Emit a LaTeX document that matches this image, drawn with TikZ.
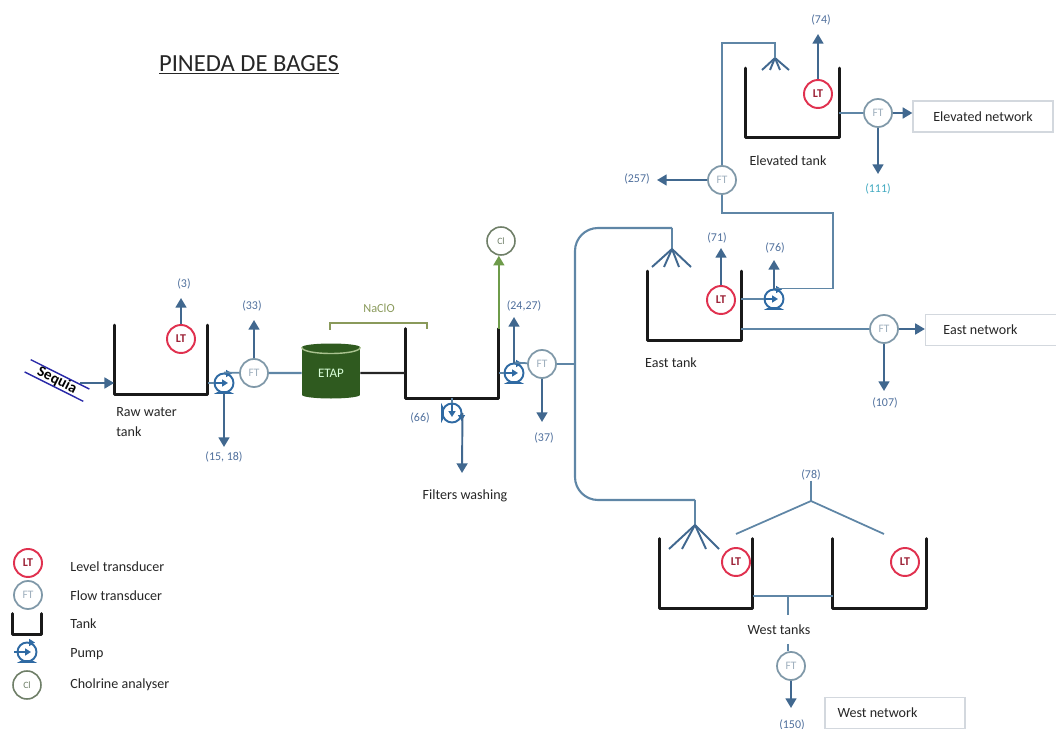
\documentclass[tikz,border=0pt]{standalone}
\usepackage{fontspec}
\setmainfont{Carlito}
\usetikzlibrary{arrows.meta,positioning,shapes.geometric}
\definecolor{flowblue}{HTML}{41688F}
\definecolor{pipeblue}{HTML}{5F86A6}
\definecolor{ringgrey}{HTML}{7F98A8}
\definecolor{ftgrey}{HTML}{9FB0BE}
\definecolor{ltred}{HTML}{E0314F}
\definecolor{lblblue}{HTML}{4F6F9C}
\definecolor{etapgreen}{HTML}{2F5A1F}
\definecolor{rimgreen}{HTML}{A9C28F}
\definecolor{chlorgreen}{HTML}{6E9B4A}
\definecolor{clring}{HTML}{6F7F68}
\definecolor{naclo}{HTML}{8A9A5B}
\definecolor{pumpblue}{HTML}{2F6AA3}
\definecolor{seqblue}{HTML}{2A2AA8}
\definecolor{boxgrey}{HTML}{D3D8DE}
\begin{document}
\begin{tikzpicture}[x=0.02cm,y=-0.02cm,
  txt/.style={font=\fontsize{8}{9}\selectfont,align=left,text=black!85,inner sep=0},
  lbl/.style={font=\fontsize{6.8}{8}\selectfont,text=lblblue,inner sep=0},
  ltnode/.style={circle,draw=ltred,line width=1.1pt,minimum size=0.56cm,inner sep=0,font=\fontsize{6.8}{7}\selectfont\bfseries,text=ltred!70!black},
  ftnode/.style={circle,draw=ringgrey,fill=white,line width=1pt,minimum size=0.56cm,inner sep=0,font=\fontsize{6.5}{7}\selectfont,text=ftgrey},
  clnode/.style={circle,draw=clring,line width=0.9pt,minimum size=0.56cm,inner sep=0,font=\fontsize{5.5}{7}\selectfont,text=clring},
  pumpnode/.style={circle,draw=pumpblue,line width=1.1pt,minimum size=0.38cm,inner sep=0},
  tankbox/.style={minimum width=1.86cm,minimum height=1.38cm,inner sep=0},
  netbox/.style={draw=boxgrey,line width=0.7pt,minimum height=0.62cm,inner sep=0,font=\fontsize{8}{9}\selectfont,text=black!85},
  tankline/.style={draw=black!90,line width=1.6pt,line cap=round,line join=round},
  pipe/.style={draw=pipeblue,line width=1pt},
  flowarr/.style={draw=flowblue,line width=1.1pt,-{Triangle[length=5.5pt,width=6.2pt]}},
  pumparr/.style={draw=pumpblue,line width=1pt,-{Triangle[length=3.4pt,width=4pt]}}]
\useasboundingbox (0,0) rectangle (1056,729);
\node[font=\fontsize{14}{16}\selectfont,text=black!85,inner sep=0] (title) at (249,65) {\underline{PINEDA DE BAGES}};
\node[tankbox] (traw) at (161,360) {};
\node[tankbox] (tfilt) at (452,363.5) {};
\node[tankbox] (teast) at (694.5,306) {};
\node[tankbox] (telev) at (792.5,103) {};
\node[tankbox] (twesta) at (706,573.5) {};
\node[tankbox] (twestb) at (879.5,573.5) {};
\node[tankbox,minimum width=0.56cm,minimum height=0.4cm] (tleg) at (27,624) {};
\foreach \t in {traw,tfilt,teast,telev,twesta,twestb,tleg}
  \draw[tankline] (\t.north west) -- (\t.south west) -- (\t.south east) -- (\t.north east);
\node[ltnode] (ltraw) at (181,339) {LT};
\node[ltnode] (lteast) at (721,300) {LT};
\node[ltnode] (ltelev) at (818,94) {LT};
\node[ltnode] (ltwesta) at (736,562) {LT};
\node[ltnode] (ltwestb) at (905,562) {LT};
\node[ltnode] (ltleg) at (28,563) {LT};
\node[ftnode] (ftraw) at (254,373) {FT};
\node[ftnode] (ftout) at (542,364) {FT};
\node[ftnode] (ftsplit) at (722,180) {FT};
\node[ftnode] (ftelev) at (878,113) {FT};
\node[ftnode] (fteast) at (884,329) {FT};
\node[ftnode] (ftwest) at (791,666) {FT};
\node[ftnode] (ftleg) at (28,595) {FT};
\node[clnode] (clout) at (501,241) {Cl};
\node[clnode] (clleg) at (27,685) {Cl};
\node[pumpnode] (praw) at (224,383) {};
\node[pumpnode] (pout) at (514,373) {};
\node[pumpnode] (peast) at (774,299) {};
\node[pumpnode] (pwash) at (452,413) {};
\node[pumpnode] (pleg) at (27,652) {};
\foreach \p/\r in {praw/0,pout/0,peast/0,pleg/0,pwash/90} {
  \draw[pumparr] ([shift={(\r+180:13)}]\p.center) -- ([shift={(\r:4)}]\p.center);
  \draw[pumparr] ([shift={(\r-90:9.5)}]\p.center) -- ++(\r:8);
  \fill[pumpblue] ([shift={(\r+60:9.5)}]\p.center) -- ([shift={(\r+120:9.5)}]\p.center) -- ([shift={(\r+133:15)}]\p.center) -- ([shift={(\r+47:15)}]\p.center) -- cycle;
}
\node[cylinder,shape border rotate=90,aspect=0.28,fill=etapgreen,minimum width=1.16cm,minimum height=1.1cm,inner sep=0,font=\fontsize{7.4}{8}\selectfont,text=white!85!green] (etap) at (331,373) {ETAP};
\draw[rimgreen,line width=0.8pt] (etap.before top) .. controls ([yshift=-0.17cm]etap.before top) and ([yshift=-0.17cm]etap.after top) .. (etap.after top);
\coordinate (seqout) at (80,383);
\node[minimum width=1.3cm,minimum height=0.25cm,inner sep=0,rotate=-26.6,font=\fontsize{8.6}{9}\selectfont\bfseries] (sequia) at (57,380.5) {Sequia};
\draw[seqblue,line width=0.8pt] (sequia.north west) -- (sequia.north east) (sequia.south west) -- (sequia.south east);
\draw[flowarr] (seqout) -- (seqout -| traw.west);
\draw[pipe] (traw.east |- praw) -- (praw);
\draw[pipe] (praw.north) -- (ftraw);
\draw[pipe,line width=1.4pt] (ftraw) -- (etap);
\draw[black!85,line width=1.3pt] (etap) -- (etap -| tfilt.west);
\coordinate (brl) at (330,330);
\coordinate (brr) at (427,329);
\coordinate (brt) at (379,323);
\draw[naclo,line width=0.7pt] (brl) |- (brt) -| (brr);
\node[lbl,text=naclo,font=\fontsize{7}{8}\selectfont] (nacl) at (379,308) {NaClO};
\draw[chlorgreen,line width=1.2pt,-{Triangle[length=5.5pt,width=6.2pt]}] (tfilt.north east) -- (clout.south -| tfilt.north east);
\draw[pipe] (tfilt.east |- pout) -- (pout);
\draw[pipe] (pout.north) -- (ftout);
\draw[pipe] (tfilt.south -| pwash) -- (pwash);
\coordinate (hdrtee) at (575,364);
\coordinate (hdrnw) at (575,228);
\coordinate (hdrsw) at (575,500);
\coordinate (spre) at (672,249);
\coordinate (sprw) at (695,525);
\coordinate (sprh) at (775,58);
\coordinate (hdre) at (672,228);
\coordinate (hdrw) at (695,500);
\draw[pipe] (ftout) -- (hdrtee);
\draw[pipe,line width=1.2pt,rounded corners=0.46cm] (hdre) -- (hdrnw) -- (hdrsw) -- (hdrw);
\draw[pipe] (hdre) -- (spre);
\draw[pipe] (hdrw) -- (sprw);
\foreach \dx in {-20,-8,7,19} \draw[flowblue,line width=1.1pt] (spre) -- ++(\dx,18);
\foreach \dx in {-13,-5,5,14} \draw[flowblue,line width=1.1pt] (sprh) -- ++(\dx,12);
\foreach \dx in {-26,-13,11,24} \draw[flowblue,line width=1.1pt] (sprw) -- ++(\dx,24);
\coordinate (corne) at (833,213);
\coordinate (cornh) at (775,43);
\draw[pipe] (teast.east |- peast) -- (peast);
\draw[pipe] (peast.north) -| (corne) -| (ftsplit.south);
\draw[pipe] (ftsplit.north) |- (cornh) -- (sprh);
\draw[pipe] (telev.east |- ftelev) -- (ftelev);
\draw[pipe] (teast.east |- fteast) -- (fteast);
\node[netbox,minimum width=2.8cm] (netelev) at (983,116.5) {Elevated network};
\node[netbox,minimum width=2.7cm] (neteast) at (993,330) {\hspace*{-0.5cm}East network};
\node[netbox,minimum width=2.8cm] (netwest) at (895,713) {\hspace*{-0.7cm}West network};
\draw[flowarr] (ftelev) -- (netelev.west |- ftelev);
\draw[flowarr] (fteast) -- (neteast.west |- fteast);
\coordinate (tip3) at (181,298);
\coordinate (tip33) at (254,320);
\coordinate (tip1518) at (224,447);
\coordinate (tip2427) at (514,317);
\coordinate (tip37) at (542,422);
\coordinate (tipwash) at (462,473);
\coordinate (tip257) at (657,180);
\coordinate (tip74) at (818,34);
\coordinate (tip111) at (878,174);
\coordinate (tip71) at (721,248);
\coordinate (tip76) at (774,260);
\coordinate (tip107) at (884,391);
\coordinate (tip150) at (791,708);
\draw[flowarr] (ltraw) -- (tip3);
\draw[flowarr] (ftraw) -- (tip33);
\draw[flowarr] (praw) -- (tip1518);
\draw[flowarr] (pout.north) -- (tip2427);
\draw[flowarr] (ftout) -- (tip37);
\draw[flowarr] (pwash.east) -- (tipwash);
\draw[flowarr] (ftsplit) -- (tip257);
\draw[flowarr] (ltelev) -- (tip74);
\draw[flowarr] (ftelev) -- (tip111);
\draw[flowarr] (lteast) -- (tip71);
\draw[flowarr] (peast.north) -- (tip76);
\draw[flowarr] (fteast) -- (tip107);
\draw[flowarr] (ftwest) -- (tip150);
\node[lbl] (m3) at (184,284) {(3)};
\node[lbl] (m33) at (252,306) {(33)};
\node[lbl] (m1518) at (224,457) {(15, 18)};
\node[lbl] (m66) at (420,418) {(66)};
\node[lbl] (m2427) at (524,306) {(24,27)};
\node[lbl] (m37) at (544,438) {(37)};
\node[lbl] (m257) at (637,179) {(257)};
\node[lbl] (m74) at (821,20) {(74)};
\node[lbl,text=pipeblue!70!cyan] (m111) at (878,189) {(111)};
\node[lbl] (m71) at (717,238) {(71)};
\node[lbl] (m76) at (775,248) {(76)};
\node[lbl] (m107) at (885,403) {(107)};
\node[lbl] (m78) at (811,475) {(78)};
\node[lbl] (m150) at (792,725) {(150)};
\coordinate (roofl) at (736,534);
\coordinate (roofr) at (884,534);
\coordinate (roofc) at (811,501);
\draw[pipe] (m78.south) -- (roofc);
\draw[pipe] (roofl) -- (roofc) -- (roofr);
\coordinate (wtee) at (788,596);
\coordinate (wdrop) at (788,615);
\coordinate (wfeed) at (788,644);
\draw[pipe] (twesta.east |- wtee) -- (twestb.west |- wtee);
\draw[pipe] (wtee) -- (wdrop);
\draw[pipe] (wfeed) -- (ftwest.north -| wfeed);
\node[txt,anchor=west] (lraw) at (116,422) {Raw water\\[2pt]tank};
\node[txt] (lwash) at (465,496) {Filters washing};
\node[txt] (lelev) at (788,161) {Elevated tank};
\node[txt] (least) at (671,363) {East tank};
\node[txt] (lwest) at (779,630) {West tanks};
\node[txt,anchor=west] (kleg1) at (70,567) {Level transducer};
\node[txt,anchor=west] (kleg2) at (70,596) {Flow transducer};
\node[txt,anchor=west] (kleg3) at (70,624) {Tank};
\node[txt,anchor=west] (kleg4) at (70,654) {Pump};
\node[txt,anchor=west] (kleg5) at (70,685) {Cholrine analyser};
\end{tikzpicture}
\end{document}
